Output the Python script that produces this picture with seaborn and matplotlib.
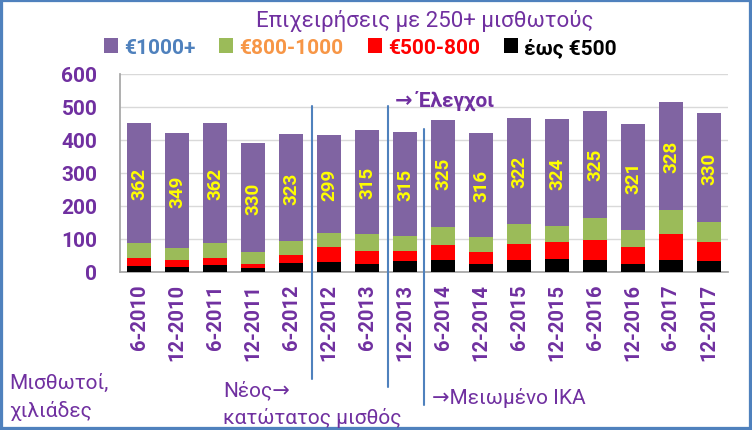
import pandas as pd
import matplotlib
matplotlib.use('Agg')
import matplotlib.pyplot as plt
import seaborn as sns
from matplotlib.patches import Patch, Rectangle

# values (thousands of employees)
periods = ['6-2010', '12-2010', '6-2011', '12-2011', '6-2012', '12-2012', '6-2013', '12-2013',
           '6-2014', '12-2014', '6-2015', '12-2015', '6-2016', '12-2016', '6-2017', '12-2017']
upto_500 = [19, 16, 22, 12, 27, 29, 24, 33, 35, 24, 35, 39, 35, 24, 35, 33]
eur_500_800 = [23, 20, 20, 13, 25, 47, 40, 31, 47, 36, 50, 52, 62, 52, 80, 58]
eur_800_1000 = [46, 37, 46, 36, 42, 41, 51, 45, 55, 46, 60, 48, 67, 51, 73, 61]
eur_1000_plus = [362, 349, 362, 330, 323, 299, 315, 315, 325, 316, 322, 324, 325, 321, 328, 330]

series_labels = ['€1000+', '€800-1000', '€500-800', 'έως €500']
series_colors = ['#8064A2', '#9BBB59', '#FF0000', '#000000']
label_colors = ['#4F81BD', '#F79646', '#FF0000', '#000000']
purple_text = '#7030A0'

df = pd.DataFrame({'period': periods, 'p1': upto_500, 'p2': eur_500_800,
                   'p3': eur_800_1000, 'p4': eur_1000_plus})
df['c1'] = df['p1']
df['c2'] = df['c1'] + df['p2']
df['c3'] = df['c2'] + df['p3']
df['c4'] = df['c3'] + df['p4']

sns.set_theme(style='white')
plt.rcParams['font.family'] = ['Roboto', 'DejaVu Sans']

fig = plt.figure(figsize=(7.52, 4.31), dpi=100)
ax = fig.add_axes([0.16, 0.3666, 0.808, 0.4594])

# stacked bars: draw cumulative totals from largest to smallest
for col, color in zip(['c4', 'c3', 'c2', 'c1'], series_colors):
    sns.barplot(data=df, x='period', y=col, color=color, saturation=1, width=0.63,
                errorbar=None, linewidth=0, ax=ax, zorder=3)

for i, row in df.iterrows():
    ax.text(i, row['c3'] + row['p4'] / 2, str(row['p4']), rotation=90, ha='center', va='center',
            color='#FFFF00', fontsize=13.5, fontweight='bold', zorder=5)

ax.set_ylim(0, 600)
ax.set_xlim(-0.5, len(periods) - 0.5)
ax.set_yticks(range(0, 601, 100))
ax.yaxis.grid(True, color='#D9D9D9', linewidth=1, zorder=0)
ax.set_axisbelow(True)
ax.set_xlabel('')
ax.set_ylabel('')
for s in ['top', 'right']:
    ax.spines[s].set_visible(False)
for s in ['left', 'bottom']:
    ax.spines[s].set_color('#A6A6A6')
ax.tick_params(axis='y', length=0, pad=16.5, labelsize=15, labelcolor=purple_text)
ax.tick_params(axis='x', length=0, pad=8, labelsize=14.5, labelcolor=purple_text, rotation=90)
for lab in ax.get_xticklabels() + ax.get_yticklabels():
    lab.set_fontweight('bold')

# event markers
for xpos, y0, y1 in [(4.55, -0.54, 0.84), (6.55, -0.58, 0.84), (7.5, -0.67, 0.72)]:
    ax.axvline(xpos, ymin=y0, ymax=y1, color='#4F81BD', linewidth=1.5, clip_on=False, zorder=6)

# legend
handles = [Patch(facecolor=c, edgecolor='none') for c in series_colors]
leg = fig.legend(handles, series_labels, loc='center', bbox_to_anchor=(0.479, 0.889), ncol=4,
                 frameon=False, prop={'size': 15, 'weight': 'bold'}, handlelength=0.67,
                 handleheight=0.67, handletextpad=0.3, columnspacing=1.15, borderpad=0)
for txt, c in zip(leg.get_texts(), label_colors):
    txt.set_color(c)

fig.text(0.565, 0.952, 'Επιχειρήσεις με 250+ μισθωτούς', ha='center', va='center',
         fontsize=16, color=purple_text)
fig.text(0.525, 0.766, '→ Έλεγχοι', ha='left', va='center', fontsize=15, fontweight='bold',
         color=purple_text)
fig.text(0.012, 0.078, 'Μισθωτοί,\nχιλιάδες', ha='left', va='center', fontsize=15,
         color=purple_text, linespacing=1.45)
fig.text(0.297, 0.062, 'Νέος→\nκατώτατος μισθός', ha='left', va='center', fontsize=15,
         color=purple_text, linespacing=1.45)
fig.text(0.575, 0.077, '→Μειωμένο ΙΚΑ', ha='left', va='center', fontsize=15, color=purple_text)

fig.add_artist(Rectangle((0, 0), 1, 1, transform=fig.transFigure, fill=False,
                         edgecolor='#4F81BD', linewidth=4.5))

fig.savefig('out.png', dpi=100)
